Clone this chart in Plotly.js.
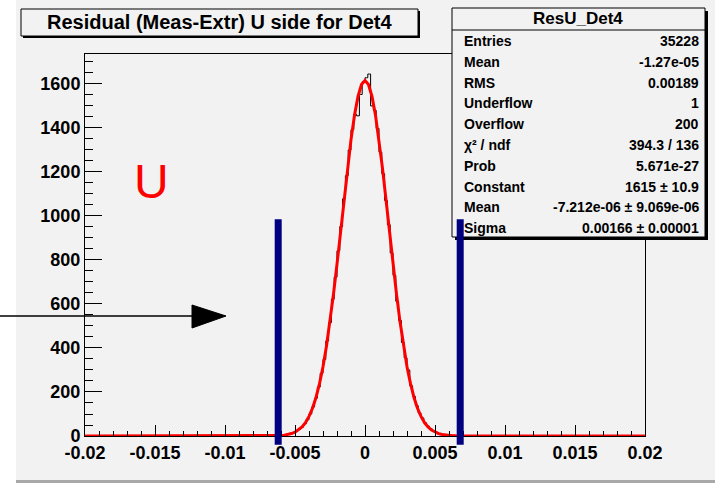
<!DOCTYPE html>
<html><head><meta charset="utf-8">
<script src="https://cdn.plot.ly/plotly-3.0.1.min.js"></script>
<style>html,body{margin:0;padding:0;background:#fff}#chart{width:715px;height:485px}</style>
</head><body><div id="chart"></div>
<script>
// ---- data ----
const chartTitle = 'Residual (Meas-Extr) U side for Det4';
const histName = 'ResU_Det4';
const binLow = -0.008;
const binWidth = 0.0002;
const binCounts = [
  0,0,1,0,1,1,2,2,3,4,
  5,7,9,12,16,22,30,40,55,74,
  100,132,172,222,285,348,432,515,622,722,
  842,952,1078,1183,1300,1392,1462,1455,1552,1610,
  1628,1645,1500,1480,1398,1290,1192,1070,960,832,
  730,612,525,425,355,300,228,180,138,104,
  82,60,45,33,24,17,12,9,7,5,
  4,3,2,2,1,1,0,1,0,0
];
const fitX = [-0.02,
  -0.0075,-0.00725,-0.007,-0.00675,-0.0065,-0.00625,-0.006,-0.00575,-0.0055,-0.00525,
  -0.005,-0.00475,-0.0045,-0.00425,-0.004,-0.00375,-0.0035,-0.00325,-0.003,-0.00275,
  -0.0025,-0.00225,-0.002,-0.00175,-0.0015,-0.00125,-0.001,-0.00075,-0.0005,-0.00025,
  0,
  0.00025,0.0005,0.00075,0.001,0.00125,0.0015,0.00175,0.002,0.00225,0.0025,
  0.00275,0.003,0.00325,0.0035,0.00375,0.004,0.00425,0.0045,0.00475,0.005,
  0.00525,0.0055,0.00575,0.006,0.00625,0.0065,0.00675,0.007,0.00725,0.0075,
  0.02];
const fitY = [0,
  0,0.1,0.2,0.5,0.8,1.4,2.4,4,6.7,11,
  17,27,41,61,89,126,175,238,315,409,
  520,645,781,927,1074,1216,1347,1458,1543,1597,
  1615,
  1597,1543,1458,1347,1216,1074,927,781,645,520,
  409,315,238,175,126,89,61,41,27,17,
  11,6.7,4,2.4,1.4,0.8,0.5,0.2,0.1,0,
  0];
const xTickVals = [-0.02,-0.015,-0.01,-0.005,0,0.005,0.01,0.015,0.02];
const xTickText = ['-0.02','-0.015','-0.01','-0.005','0','0.005','0.01','0.015','0.02'];
const yTickVals = [0,200,400,600,800,1000,1200,1400,1600];
const yTickText = ['0','200','400','600','800','1000','1200','1400','1600'];
const statLabels = ['Entries','Mean','RMS','Underflow','Overflow','\u03c7\u00b2 / ndf','Prob','Constant','Mean','Sigma'];
const statValues = ['35228','-1.27e-05','0.00189','1','200','394.3 / 136','5.671e-27','1615 \u00b1 10.9','-7.212e-06 \u00b1 9.069e-06','0.00166 \u00b1 0.00001'];
const cutX = [-0.0062, 0.0068];
const cutTop = 985;
const cutBottom = -40;
const markerLabel = 'U';
const xRange = [-0.02, 0.02];
const yRange = [0, 1736];

// ---- build ----
const histX = [xRange[0]], histY = [0];
for (let i = 0; i < binCounts.length; i++) {
  histX.push(binLow + binWidth * (i + 0.5));
  histY.push(binCounts[i]);
}
histX.push(xRange[1]); histY.push(0);

const W = 715, H = 485, mL = 85, mR = 70, mT = 54, mB = 49;
const pw = W - mL - mR, ph = H - mT - mB;
const px = x => (x - mL) / pw;
const py = y => (H - mB - y) / ph;
const yPaper = v => (v - yRange[0]) / (yRange[1] - yRange[0]);

const FONT = 'Liberation Sans, Arial, Helvetica, sans-serif';
const BG = '#f2f2f2';

const shapes = [];
shapes.push({type:'rect', xref:'paper', yref:'paper', x0:px(-5), x1:px(16), y0:py(-5), y1:py(490), fillcolor:'#ffffff', line:{width:0}, layer:'below'});
shapes.push({type:'rect', xref:'paper', yref:'paper', x0:px(-5), x1:px(720), y0:py(483), y1:py(490), fillcolor:'#ffffff', line:{width:0}, layer:'below'});
shapes.push({type:'rect', xref:'paper', yref:'paper', x0:px(16), x1:px(720), y0:py(480), y1:py(483), fillcolor:'#a8a8a8', line:{width:0}, layer:'below'});
// title box with shadow
shapes.push({type:'rect', xref:'paper', yref:'paper', x0:px(23), x1:px(420), y0:py(38), y1:py(11), fillcolor:'#000000', line:{width:0}});
shapes.push({type:'rect', xref:'paper', yref:'paper', x0:px(21), x1:px(418), y0:py(36), y1:py(9), fillcolor:BG, line:{color:'#000000', width:1}});
// stats box with shadow
shapes.push({type:'rect', xref:'paper', yref:'paper', x0:px(455), x1:px(708), y0:py(240), y1:py(11), fillcolor:'#000000', line:{width:0}});
shapes.push({type:'rect', xref:'paper', yref:'paper', x0:px(452), x1:px(705), y0:py(237), y1:py(8), fillcolor:BG, line:{color:'#000000', width:1}});
shapes.push({type:'line', xref:'paper', yref:'paper', x0:px(452), x1:px(705), y0:py(30), y1:py(30), line:{color:'#000000', width:1}});
// arrow
shapes.push({type:'line', xref:'paper', yref:'paper', x0:px(0), x1:px(195), y0:py(316), y1:py(316), line:{color:'#000000', width:1.5}});
shapes.push({type:'path', xref:'paper', yref:'paper',
  path:`M ${px(192)} ${py(305)} L ${px(226)} ${py(316)} L ${px(192)} ${py(328)} Z`,
  fillcolor:'#000000', line:{color:'#000000', width:1}});
// cut lines
cutX.forEach(c => {
  shapes.push({type:'line', xref:'x', yref:'paper', x0:c, x1:c, y0:yPaper(cutBottom), y1:yPaper(cutTop), line:{color:'#000080', width:7}});
});

const annotations = [];
annotations.push({xref:'paper', yref:'paper', x:px(219.5), y:py(22.5), xanchor:'center', yanchor:'middle', showarrow:false,
  text:'<b>' + chartTitle + '</b>', font:{family:FONT, size:20, color:'#000'}});
annotations.push({xref:'paper', yref:'paper', x:px(578), y:py(18.5), xanchor:'center', yanchor:'middle', showarrow:false,
  text:'<b>' + histName + '</b>', font:{family:FONT, size:17, color:'#000'}});
const rowY0 = 41, rowDy = 20.8;
statLabels.forEach((lab, i) => {
  const yy = py(rowY0 + i * rowDy);
  annotations.push({xref:'paper', yref:'paper', x:px(462), y:yy, xanchor:'left', yanchor:'middle', showarrow:false,
    text:'<b>' + lab + '</b>', font:{family:FONT, size:14, color:'#000'}});
  annotations.push({xref:'paper', yref:'paper', x:px(701), y:yy, xanchor:'right', yanchor:'middle', showarrow:false,
    text:'<b>' + statValues[i] + '</b>', font:{family:FONT, size:14, color:'#000'}});
});
annotations.push({xref:'paper', yref:'paper', x:px(151), y:py(181), xanchor:'center', yanchor:'middle', showarrow:false,
  text:markerLabel, font:{family:FONT, size:48, color:'#ff0000'}});

const traces = [
  {x:histX, y:histY, type:'scatter', mode:'lines', line:{shape:'hvh', color:'#000000', width:1}, hoverinfo:'skip', cliponaxis:false},
  {x:fitX, y:fitY, type:'scatter', mode:'lines', line:{color:'#ff0000', width:3}, hoverinfo:'skip', cliponaxis:false}
];

const layout = {
  width:W, height:H,
  margin:{l:mL, r:mR, t:mT, b:mB, pad:0},
  paper_bgcolor:BG, plot_bgcolor:BG,
  showlegend:false,
  font:{family:FONT, color:'#000'},
  xaxis:{range:xRange, tickmode:'array', tickvals:xTickVals, ticktext:xTickText,
    ticks:'inside', ticklen:11, tickwidth:1, tickcolor:'#000',
    showline:true, linecolor:'#000', linewidth:1, mirror:true,
    showgrid:false, zeroline:false,
    tickfont:{family:FONT, size:18, color:'#000', weight:'bold'},
    minor:{dtick:0.001, tick0:0, ticks:'inside', ticklen:5, tickcolor:'#000', tickwidth:1, showgrid:false}},
  yaxis:{range:yRange, tickmode:'array', tickvals:yTickVals, ticktext:yTickText,
    ticks:'inside', ticklen:17, tickwidth:1, tickcolor:'#000',
    showline:true, linecolor:'#000', linewidth:1, mirror:true,
    showgrid:false, zeroline:false,
    tickfont:{family:FONT, size:18, color:'#000', weight:'bold'},
    minor:{dtick:50, tick0:0, ticks:'inside', ticklen:8, tickcolor:'#000', tickwidth:1, showgrid:false}},
  shapes:shapes,
  annotations:annotations
};

Plotly.newPlot('chart', traces, layout, {displayModeBar:false, staticPlot:true});
</script>
</body></html>
